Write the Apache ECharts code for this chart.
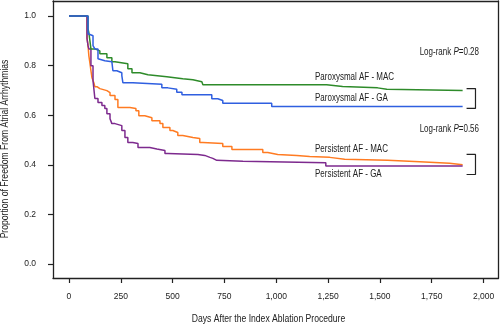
<!DOCTYPE html>
<html>
<head>
<meta charset="utf-8">
<script src="https://cdn.jsdelivr.net/npm/echarts@6/dist/echarts.min.js"></script>
<style>html,body{margin:0;padding:0;background:#fff;}#c{width:500px;height:325px;}</style>
</head>
<body>
<div id="c"></div>
<script>
// ---- data (days after ablation, proportion free of AA) ----
const parMacDays = [0, 92, 96, 101, 106, 125, 149, 183, 207, 222, 284, 304, 342, 381, 472, 549, 598, 641, 646, 1243, 1320, 1489, 1533, 1899];
const parMacVals = [1.0, 0.948, 0.932, 0.90, 0.867, 0.859, 0.847, 0.831, 0.815, 0.807, 0.787, 0.771, 0.763, 0.755, 0.747, 0.743, 0.735, 0.731, 0.723, 0.716, 0.710, 0.704, 0.699, 0.699];

const parGaDays = [0, 92, 101, 116, 125, 140, 149, 173, 207, 212, 231, 255, 260, 308, 448, 477, 520, 545, 689, 718, 742, 978, 1899];
const parGaVals = [1.0, 0.928, 0.920, 0.880, 0.867, 0.827, 0.819, 0.815, 0.807, 0.779, 0.771, 0.759, 0.731, 0.725, 0.710, 0.704, 0.692, 0.682, 0.666, 0.659, 0.648, 0.635, 0.635];

const perMacDays = [0, 87, 92, 96, 101, 106, 111, 120, 125, 135, 149, 183, 198, 222, 236, 294, 323, 337, 366, 400, 439, 453, 487, 501, 525, 549, 598, 631, 646, 742, 786, 935, 959, 983, 1007, 1099, 1161, 1258, 1330, 1537, 1692, 1836, 1899];
const perMacVals = [1.0, 0.912, 0.880, 0.839, 0.811, 0.779, 0.751, 0.731, 0.715, 0.707, 0.699, 0.691, 0.679, 0.663, 0.631, 0.627, 0.618, 0.598, 0.590, 0.578, 0.566, 0.550, 0.538, 0.530, 0.518, 0.510, 0.506, 0.490, 0.486, 0.474, 0.462, 0.450, 0.446, 0.442, 0.438, 0.434, 0.430, 0.422, 0.418, 0.412, 0.406, 0.400, 0.400];

const perGaDays = [0, 87, 92, 96, 106, 116, 125, 140, 159, 173, 183, 198, 207, 222, 255, 270, 284, 308, 333, 390, 424, 463, 477, 622, 655, 680, 694, 713, 839, 1239, 1899];
const perGaVals = [1.0, 0.908, 0.880, 0.867, 0.799, 0.739, 0.667, 0.651, 0.639, 0.627, 0.606, 0.586, 0.566, 0.558, 0.538, 0.510, 0.490, 0.486, 0.470, 0.464, 0.458, 0.446, 0.442, 0.438, 0.430, 0.426, 0.418, 0.414, 0.408, 0.395, 0.395];

const xTicks = [0, 250, 500, 750, 1000, 1250, 1500, 1750, 2000];
const yTicks = [0, 0.2, 0.4, 0.6, 0.8, 1.0];

// group brackets (day span, upper/lower value)
const bracketDays = [1918, 1961];
const parBracketVals = [0.707, 0.627];
const perBracketVals = [0.442, 0.361];

const pValues = ['0.28', '0.56'];
const seriesNames = ['Paroxysmal AF - MAC', 'Paroxysmal AF - GA', 'Persistent AF - MAC', 'Persistent AF - GA'];

// ---- build ----
const zip = (a, b) => a.map((d, i) => [d, b[i]]);
const bracket = (v) => [[bracketDays[0], v[0]], [bracketDays[1], v[0]], [bracketDays[1], v[1]], [bracketDays[0], v[1]]];
const FONT = "'Liberation Sans', Arial, sans-serif";
const INK = '#222';

const chart = echarts.init(document.getElementById('c'), null, {renderer: 'canvas'});

function lineSeries(name, data, color) {
  return {
    name, type: 'line', step: 'end', data, showSymbol: false, symbol: 'none',
    lineStyle: {color, width: 1.5}, animation: false, z: 3
  };
}
function bracketSeries(data) {
  return {
    type: 'line', data, showSymbol: false, symbol: 'none',
    lineStyle: {color: INK, width: 1.2}, animation: false, z: 3
  };
}

const txt = (text, x, y, align, sx) => ({
  type: 'text', x, y, scaleX: sx || 0.8,
  style: {
    text, font: '10px ' + FONT, fill: INK, textAlign: align || 'left', textVerticalAlign: 'middle',
    rich: {i: {fontStyle: 'italic', fontSize: 10, fontFamily: FONT, fill: INK}}
  }
});

const lineAx = {show: true, onZero: false, lineStyle: {color: INK, width: 1.3}};
const tickStyle = {color: INK, width: 1.2};

chart.setOption({
  animation: false,
  backgroundColor: '#fff',
  grid: {left: 53, right: 1.5, top: 1, bottom: 47},
  xAxis: [{
    type: 'value', min: -77, max: 2072, position: 'bottom',
    axisLine: lineAx,
    axisTick: {show: true, customValues: xTicks, length: 5, lineStyle: tickStyle},
    axisLabel: {customValues: xTicks, margin: 14, color: INK, fontSize: 8.5, fontFamily: FONT,
      formatter: v => v.toLocaleString('en-US')},
    splitLine: {show: false}
  }, {
    type: 'value', min: -77, max: 2072, position: 'top',
    axisLine: lineAx, axisTick: {show: false}, axisLabel: {show: false}, splitLine: {show: false}
  }],
  yAxis: [{
    type: 'value', min: -0.056, max: 1.06, position: 'left',
    axisLine: lineAx,
    axisTick: {show: true, customValues: yTicks, length: 5, lineStyle: tickStyle},
    axisLabel: {customValues: yTicks, margin: 17, color: INK, fontSize: 8.5, fontFamily: FONT,
      formatter: v => v.toFixed(1)},
    splitLine: {show: false}
  }, {
    type: 'value', min: -0.056, max: 1.06, position: 'right',
    axisLine: lineAx, axisTick: {show: false}, axisLabel: {show: false}, splitLine: {show: false}
  }],
  series: [
    lineSeries(seriesNames[2], zip(perMacDays, perMacVals), '#ff7b22'),
    lineSeries(seriesNames[3], zip(perGaDays, perGaVals), '#7d2a8e'),
    lineSeries(seriesNames[0], zip(parMacDays, parMacVals), '#2e8b2a'),
    lineSeries(seriesNames[1], zip(parGaDays, parGaVals), '#2f5fe0'),
    bracketSeries(bracket(parBracketVals)),
    bracketSeries(bracket(perBracketVals))
  ],
  graphic: [
    txt('Log-rank {i|P}=' + pValues[0], 479, 52, 'right'),
    txt(seriesNames[0], 315, 77),
    txt(seriesNames[1], 315, 98),
    txt('Log-rank {i|P}=' + pValues[1], 479, 129, 'right'),
    txt(seriesNames[2], 315, 149),
    txt(seriesNames[3], 315, 174.5),
    txt('Days After the Index Ablation Procedure', 268.5, 319, 'center', 0.86),
    {type: 'text', x: 5, y: 149, rotation: Math.PI / 2, scaleX: 0.86,
      style: {text: 'Proportion of Freedom From Atrial Arrhythmias', font: '10px ' + FONT, fill: INK, textAlign: 'center', textVerticalAlign: 'middle'}}
  ]
});
</script>
</body>
</html>
